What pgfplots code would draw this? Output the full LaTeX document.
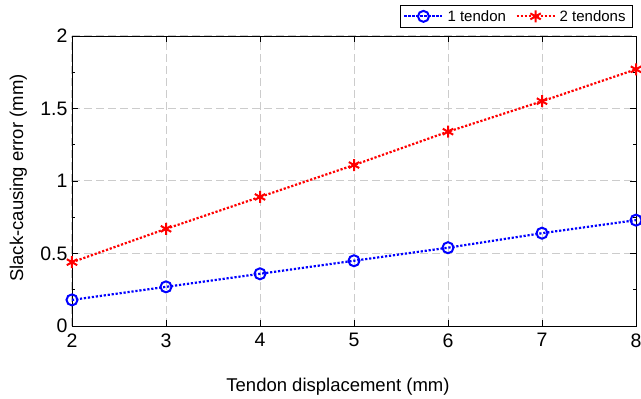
\documentclass[border=0pt]{standalone}
\usepackage{pgfplots}
\pgfplotsset{compat=1.18}
\usepackage{fontspec}
\setmainfont{Liberation Sans}
\definecolor{gridgray}{gray}{0.8}
\begin{document}
\begin{tikzpicture}
\begin{axis}[
  name=ax,
  scale only axis,
  width=564pt, height=290pt,
  xmin=2, xmax=8, ymin=0, ymax=2,
  xtick={2,3,4,5,6,7,8},
  ytick={0,0.5,1,1.5,2},
  yticklabels={0,0.5,1,1.5,2},
  minor y tick num=1,
  /pgf/number format/assume math mode=true,
  tick label style={font=\fontsize{19.5}{22}\selectfont},
  xticklabel style={yshift=-4pt},
  yticklabel style={xshift=-1pt},
  xlabel={Tendon displacement (mm)},
  ylabel={Slack-causing error (mm)},
  xlabel style={font=\fontsize{18.5}{22}\selectfont, at={(axis description cs:0.4716,0)}, anchor=base, yshift=-65pt},
  ylabel style={font=\fontsize{18.5}{22}\selectfont, at={(axis description cs:-0.111,0.51)}, anchor=north, inner sep=0pt},
  grid=major,
  major grid style={gridgray, line width=1pt, dash pattern=on 8pt off 4pt},
  axis line style={black, line width=0.9pt},
  tick style={black, line width=0.9pt},
  major tick length=6pt, minor tick length=3pt,
  tick align=inside,
  legend columns=2,
  legend image code/.code={
    \draw[#1] (0pt,0pt) -- (38pt,0pt);
    \draw[#1, mark repeat=1] plot coordinates {(19pt,0pt)};
  },
  legend style={at={(1,1)}, anchor=south east, xshift=-3pt, yshift=8pt,
    font=\fontsize{15}{17}\selectfont, draw=black, line width=0.9pt,
    inner xsep=3pt, inner ysep=2pt,
    /tikz/every even column/.append style={column sep=5.5pt},
    nodes={inner xsep=4pt, inner ysep=3pt}},
]
\addplot[blue, line width=2.2pt, dash pattern=on 2.2pt off 1.8pt, mark=o, mark size=5.5pt, mark options={solid, line width=2pt}]
 coordinates {(2,0.18) (3,0.27) (4,0.36) (5,0.45) (6,0.54) (7,0.64) (8,0.73)};
\addlegendentry{1 tendon}
\addplot[red, line width=2.2pt, dash pattern=on 2.2pt off 1.8pt, mark=asterisk, mark size=6pt, mark options={solid, line width=2pt}]
 coordinates {(2,0.44) (3,0.67) (4,0.89) (5,1.11) (6,1.34) (7,1.55) (8,1.77)};
\addlegendentry{2 tendons\hspace{5pt}}
\end{axis}
\pgfresetboundingbox
\useasboundingbox ([shift={(-72pt,-72pt)}]ax.south west) rectangle ([shift={(5pt,36pt)}]ax.north east);
\end{tikzpicture}
\end{document}
